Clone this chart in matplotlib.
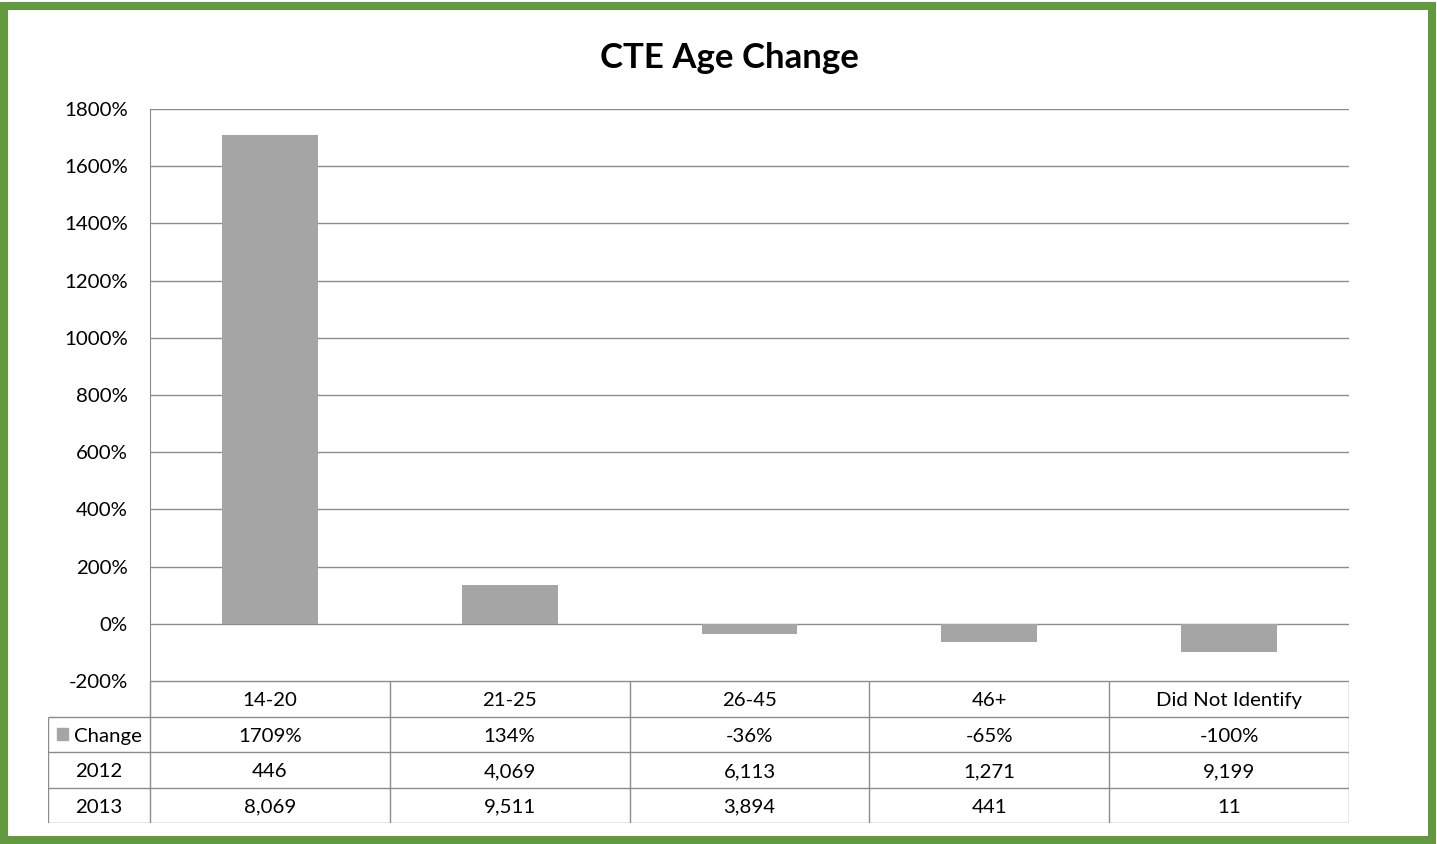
import matplotlib.pyplot as plt
from matplotlib.patches import Rectangle

categories = ['14-20', '21-25', '26-45', '46+', 'Did Not Identify']
change_pct = [1709, 134, -36, -65, -100]
count_2012 = [446, 4069, 6113, 1271, 9199]
count_2013 = [8069, 9511, 3894, 441, 11]
y_ticks = list(range(-200, 1801, 200))

plt.rcParams['font.family'] = ['Lato', 'DejaVu Sans']

W, H = 1437, 844
fig = plt.figure(figsize=(W / 100, H / 100), dpi=100)


def fx(px):
    return px / W


def fy(py):
    return 1 - py / H


line_col = '#8C8C8C'
bar_col = '#A5A5A5'
fs = 14.7

# chart area
ax = fig.add_axes([fx(150), fy(681), fx(1349) - fx(150), fy(109) - fy(681)])
x = list(range(len(categories)))
ax.bar(x, change_pct, width=0.4, color=bar_col, zorder=3)
ax.set_xlim(-0.5, len(categories) - 0.5)
ax.set_ylim(-200, 1800)
ax.set_yticks(y_ticks)
ax.set_yticklabels([f'{v}%' for v in y_ticks])
ax.set_xticks([])
ax.yaxis.grid(True, color=line_col, lw=1, zorder=0)
for s in ['top', 'right', 'bottom']:
    ax.spines[s].set_visible(False)
ax.spines['left'].set_color(line_col)
ax.tick_params(axis='y', length=0, pad=16, labelsize=fs)

# data table under the chart
left = -0.5 - 102 / 240
tax = fig.add_axes([fx(48), fy(823), fx(1349) - fx(48), fy(681) - fy(823)])
tax.set_xlim(left, len(categories) - 0.5)
tax.set_ylim(4, 0)
tax.axis('off')
tax.hlines([0], -0.5, len(categories) - 0.5, color=line_col, lw=1)
tax.hlines([1, 2, 3, 4], left, len(categories) - 0.5, color=line_col, lw=1)
tax.vlines([i - 0.5 for i in range(len(categories) + 1)], 0, 4, color=line_col, lw=1)
tax.vlines([left], 1, 4, color=line_col, lw=1)

rows = [
    categories,
    [f'{v}%' for v in change_pct],
    [f'{v:,}' for v in count_2012],
    [f'{v:,}' for v in count_2013],
]
ty = 0.55
for r, vals in enumerate(rows):
    for i, v in enumerate(vals):
        tax.text(i, r + ty, v, ha='center', va='center', fontsize=fs)

mid = (left - 0.5) / 2
tax.add_patch(Rectangle((left + 9 / 240, 1.5 - 0.17), 11 / 240, 0.34, color=bar_col))
tax.text(left + 26 / 240, 1 + ty, 'Change', ha='left', va='center', fontsize=fs)
tax.text(mid, 2 + ty, '2012', ha='center', va='center', fontsize=fs)
tax.text(mid, 3 + ty, '2013', ha='center', va='center', fontsize=fs)

fig.text(fx(729), fy(58), 'CTE Age Change', ha='center', va='center',
         fontsize=25, fontweight='bold')

# green frame
fig.patches.append(Rectangle((fx(4), fy(840)), fx(1432) - fx(4), fy(6) - fy(840),
                             transform=fig.transFigure, fill=False,
                             edgecolor='#62993E', lw=5.8))

fig.savefig('out.png', dpi=100)
